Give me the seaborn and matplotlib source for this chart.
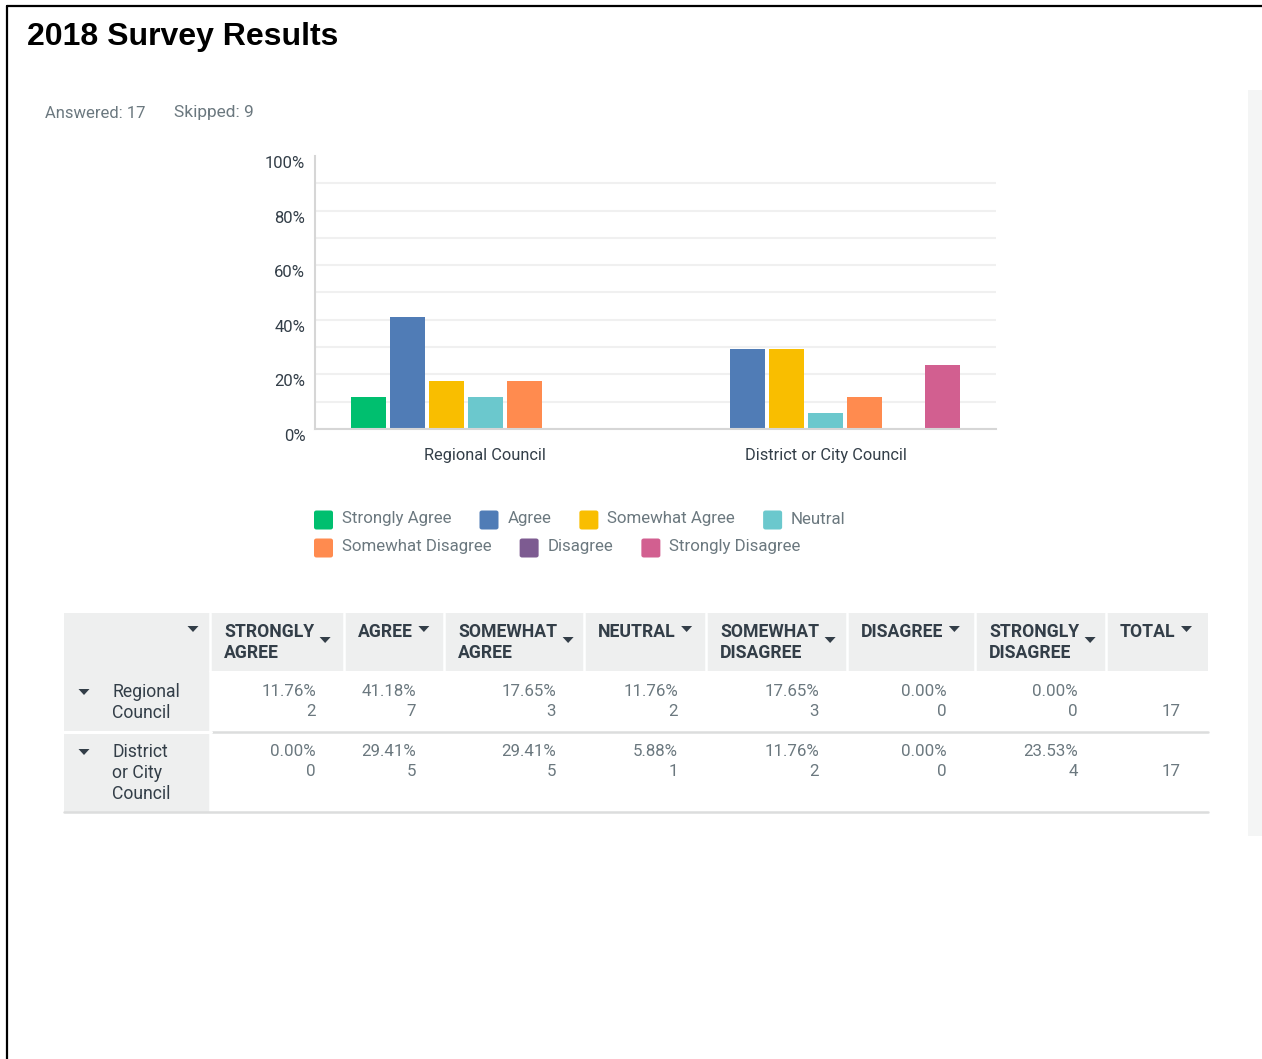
import matplotlib
matplotlib.use("Agg")
import matplotlib.pyplot as plt
import seaborn as sns
import pandas as pd
from matplotlib.patches import Rectangle, FancyBboxPatch, Polygon
from matplotlib.lines import Line2D
from matplotlib.transforms import ScaledTranslation

# ---------------- data ----------------
title = "2018 Survey Results"
answered_text = "Answered: 17"
skipped_text = "Skipped: 9"
groups = ["Regional Council", "District or City Council"]
table_row_labels = [["Regional", "Council"], ["District", "or City", "Council"]]
responses = ["Strongly Agree", "Agree", "Somewhat Agree", "Neutral",
             "Somewhat Disagree", "Disagree", "Strongly Disagree"]
colors = ["#00bf6f", "#507cb6", "#f9be00", "#6bc8cd",
          "#ff8b4f", "#7d5b91", "#d25f90"]
pct_regional = [11.76, 41.18, 17.65, 11.76, 17.65, 0.00, 0.00]
pct_district = [0.00, 29.41, 29.41, 5.88, 11.76, 0.00, 23.53]
cnt_regional = [2, 7, 3, 2, 3, 0, 0]
cnt_district = [0, 5, 5, 1, 2, 0, 4]
totals = [17, 17]
header_labels = [["STRONGLY", "AGREE"], ["AGREE"], ["SOMEWHAT", "AGREE"],
                 ["NEUTRAL"], ["SOMEWHAT", "DISAGREE"], ["DISAGREE"],
                 ["STRONGLY", "DISAGREE"], ["TOTAL"]]
y_ticks = [0, 20, 40, 60, 80, 100]
y_tick_labels = ["0%", "20%", "40%", "60%", "80%", "100%"]

df = pd.DataFrame({
    "group": [groups[0]] * len(responses) + [groups[1]] * len(responses),
    "response": responses * 2,
    "pct": pct_regional + pct_district,
})

# ---------------- style ----------------
sns.set_theme(style="white")
plt.rcParams["font.family"] = ["Roboto", "DejaVu Sans"]

W, H = 1262, 1059
fig = plt.figure(figsize=(W / 100, H / 100), dpi=100)
fig.patch.set_facecolor("white")

def fx(x):
    return x / W

def fy(y):
    return 1 - y / H

def rect(x0, y0, x1, y1, color, z=0):
    fig.add_artist(Rectangle((fx(x0), fy(y1)), (x1 - x0) / W, (y1 - y0) / H,
                             transform=fig.transFigure, facecolor=color,
                             edgecolor="none", lw=0, zorder=z))

def hline(x0, x1, y, color, lw, z=1):
    fig.add_artist(Line2D([fx(x0), fx(x1)], [fy(y), fy(y)],
                          transform=fig.transFigure, color=color, lw=lw, zorder=z))

def vline(x, y0, y1, color, lw, z=1):
    fig.add_artist(Line2D([fx(x), fx(x)], [fy(y0), fy(y1)],
                          transform=fig.transFigure, color=color, lw=lw, zorder=z))

def arrow(xc, yc, color, w=11, h=6):
    pts = [(fx(xc - w / 2), fy(yc - h / 2)), (fx(xc + w / 2), fy(yc - h / 2)),
           (fx(xc), fy(yc + h / 2))]
    fig.add_artist(Polygon(pts, closed=True, transform=fig.transFigure,
                           facecolor=color, edgecolor="none", zorder=3))

DARK = "#333e48"
GRAY = "#6b787f"

# frame
hline(7, W, 6, "black", 1.6)
vline(7, 6, H, "black", 1.6)
# right scroll strip
rect(1248, 90, W, 836, "#f4f5f5")

# title and header info
fig.text(fx(27), fy(37), title, fontsize=23, fontweight="bold",
         family="Liberation Sans", color="black", va="center", ha="left")
fig.text(fx(45), fy(113), answered_text, fontsize=12, color=GRAY, va="center")
fig.text(fx(174), fy(113), skipped_text, fontsize=12.5, color=GRAY, va="center")

# ---------------- bar chart ----------------
ax = fig.add_axes([fx(315), fy(429), 681 / W, 273 / H])
sns.barplot(data=df, x="group", y="pct", hue="response", hue_order=responses,
            palette=colors, saturation=1, width=0.8, gap=0.1,
            linewidth=0, ax=ax, legend=False, errorbar=None)
ax.set_xlim(-0.5, 1.5)
ax.set_ylim(0, 100)
ax.set_xlabel("")
ax.set_ylabel("")
ax.set_yticks(y_ticks)
ax.set_yticklabels(y_tick_labels)
ax.set_yticks(list(range(10, 100, 10)), minor=True)
ax.yaxis.grid(True, which="both", color="#f0f0f0", lw=1.5)
ax.set_axisbelow(True)
for s in ["top", "right"]:
    ax.spines[s].set_visible(False)
for s in ["left", "bottom"]:
    ax.spines[s].set_color("#d6d6d6")
    ax.spines[s].set_linewidth(1.5)
ax.tick_params(axis="y", which="both", length=0, pad=7, labelsize=12, labelcolor=DARK)
ax.tick_params(axis="x", length=0, pad=14, labelsize=11.8, labelcolor=DARK)
off = ScaledTranslation(0, -6 / 100, fig.dpi_scale_trans)
for lab in ax.get_yticklabels():
    lab.set_transform(lab.get_transform() + off)
fig.canvas.draw()
gl = ax.yaxis.get_gridlines()
gl[-1].set_visible(False)

# ---------------- legend (flow layout) ----------------
renderer = fig.canvas.get_renderer()
rows = [responses[:4], responses[4:]]
row_y = [520, 548]
k = 0
for r, names in enumerate(rows):
    x = 313
    for name in names:
        c = colors[k]
        k += 1
        y = row_y[r]
        fig.add_artist(FancyBboxPatch((fx(x + 1), fy(y + 9.5)), 19 / W, 19 / H,
                                      boxstyle="round,pad=0,rounding_size=0.002",
                                      transform=fig.transFigure,
                                      facecolor=c, edgecolor="none"))
        t = fig.text(fx(x + 29), fy(y - 1), name, fontsize=12.2, color=GRAY,
                     va="center", ha="left")
        bb = t.get_window_extent(renderer)
        x = bb.x1 + 27

# ---------------- table ----------------
HEADER_BG = "#eeefef"
cols = [64, 210, 344, 444, 584, 706, 847, 975, 1106, 1208]
rect(64, 613, 1208, 671, HEADER_BG)
rect(64, 671, 210, 812, HEADER_BG)
for c in cols[1:-1]:
    vline(c, 613, 671, "white", 1.8)
vline(210, 671, 812, "white", 1.8)
hline(210, 1208, 732, "#dcdddd", 1.8)
hline(64, 211, 732, "white", 2.2, z=2)
hline(64, 1208, 812, "#dcdddd", 1.8)

# first header cell arrow
arrow(193, 629, DARK)
for i, lines in enumerate(header_labels):
    x0 = cols[i + 1] + 14
    ys = [632, 653]
    first = None
    for j, line in enumerate(lines):
        t = fig.text(fx(x0), fy(ys[j]), line, fontsize=12.7, fontweight="bold",
                     color=DARK, va="center", ha="left")
        if j == 0:
            first = t
    bb = first.get_window_extent(renderer)
    ay = 640 if len(lines) > 1 else 629
    arrow(bb.x1 + 11, ay, DARK)

row_pcts = [pct_regional, pct_district]
row_cnts = [cnt_regional, cnt_district]
row_top = [692, 752]
for r in range(2):
    y = row_top[r]
    arrow(84, y, DARK)
    for j, line in enumerate(table_row_labels[r]):
        fig.text(fx(112), fy(y + 21 * j), line, fontsize=12.7, color=DARK,
                 va="center", ha="left")
    for i in range(len(responses)):
        xr = cols[i + 2] - 28
        fig.text(fx(xr), fy(y), f"{row_pcts[r][i]:.2f}%", fontsize=12.2,
                 color=GRAY, va="center", ha="right")
        fig.text(fx(xr), fy(y + 20), f"{row_cnts[r][i]}", fontsize=12.2,
                 color=GRAY, va="center", ha="right")
    fig.text(fx(cols[-1] - 27), fy(y + 20), f"{totals[r]}", fontsize=12.2,
             color=GRAY, va="center", ha="right")

fig.savefig("out.png", dpi=100, facecolor="white")
